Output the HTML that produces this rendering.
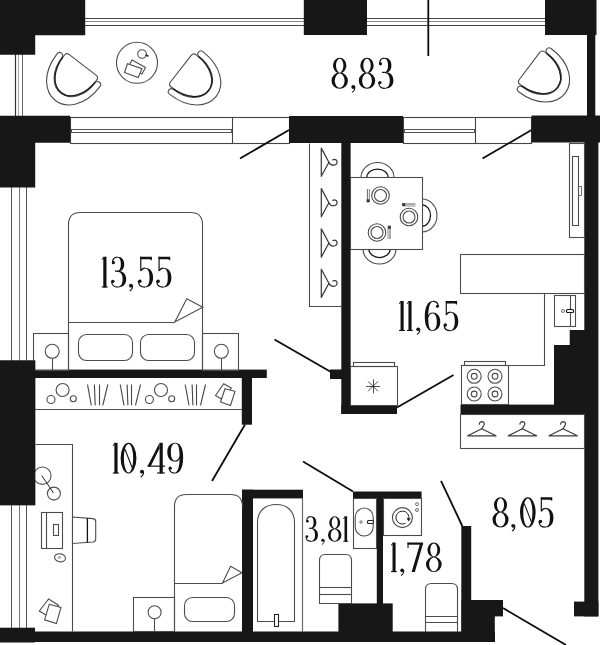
<!DOCTYPE html>
<html><head><meta charset="utf-8"><title>Floor plan</title>
<style>
html,body{margin:0;padding:0;background:#fff;font-family:"Liberation Sans",sans-serif;}
svg{display:block}
</style></head>
<body>
<svg width="600" height="645" viewBox="0 0 600 645">
<rect x="0" y="0" width="600" height="645" fill="#fff"/>
<line x1="85.00" y1="18.50" x2="545.00" y2="18.50" stroke="#444" stroke-width="1.2" stroke-linecap="butt"/>
<line x1="85.00" y1="21.50" x2="545.00" y2="21.50" stroke="#8a8a8a" stroke-width="1.0" stroke-linecap="butt"/>
<line x1="85.00" y1="25.50" x2="545.00" y2="25.50" stroke="#444" stroke-width="1.1" stroke-linecap="butt"/>
<line x1="15.50" y1="54.00" x2="15.50" y2="116.00" stroke="#333" stroke-width="1.2" stroke-linecap="butt"/>
<line x1="18.50" y1="54.00" x2="18.50" y2="116.00" stroke="#aaa" stroke-width="1.1" stroke-linecap="butt"/>
<line x1="22.50" y1="54.00" x2="22.50" y2="116.00" stroke="#666" stroke-width="1.0" stroke-linecap="butt"/>
<line x1="11.50" y1="187.00" x2="11.50" y2="361.00" stroke="#555" stroke-width="1.0" stroke-linecap="butt"/>
<line x1="11.50" y1="505.00" x2="11.50" y2="628.00" stroke="#555" stroke-width="1.0" stroke-linecap="butt"/>
<line x1="19.50" y1="187.00" x2="19.50" y2="361.00" stroke="#777" stroke-width="1.0" stroke-linecap="butt"/>
<line x1="19.50" y1="505.00" x2="19.50" y2="628.00" stroke="#777" stroke-width="1.0" stroke-linecap="butt"/>
<line x1="26.50" y1="187.00" x2="26.50" y2="361.00" stroke="#555" stroke-width="1.0" stroke-linecap="butt"/>
<line x1="26.50" y1="505.00" x2="26.50" y2="628.00" stroke="#555" stroke-width="1.0" stroke-linecap="butt"/>
<rect x="70.50" y="117.50" width="219.00" height="26.00" fill="none" stroke="#444" stroke-width="1.1"/>
<line x1="232.50" y1="117.00" x2="232.50" y2="143.40" stroke="#444" stroke-width="1.1" stroke-linecap="butt"/>
<rect x="71.50" y="129.50" width="160.00" height="3.00" fill="none" stroke="#444" stroke-width="0.9"/>
<rect x="403.50" y="117.50" width="128.00" height="26.00" fill="none" stroke="#444" stroke-width="1.1"/>
<line x1="475.50" y1="117.00" x2="475.50" y2="143.40" stroke="#444" stroke-width="1.1" stroke-linecap="butt"/>
<rect x="404.50" y="129.50" width="70.00" height="3.00" fill="none" stroke="#444" stroke-width="0.9"/>
<polygon points="0.00,0.00 85.20,0.00 85.20,35.20 35.20,35.20 35.20,54.70 0.00,54.70" fill="#171717" stroke="none" stroke-width="0" stroke-linejoin="miter"/>
<rect x="303.80" y="0.00" width="63.20" height="35.00" fill="#171717"/>
<rect x="545.00" y="0.00" width="51.50" height="35.00" fill="#171717"/>
<rect x="587.00" y="35.00" width="8.30" height="81.00" fill="#171717"/>
<polygon points="0.00,115.70 70.20,115.70 70.20,142.80 35.20,142.80 35.20,187.50 0.00,187.50" fill="#171717" stroke="none" stroke-width="0" stroke-linejoin="miter"/>
<rect x="289.00" y="116.00" width="114.00" height="27.00" fill="#171717"/>
<rect x="531.50" y="115.50" width="68.50" height="27.00" fill="#171717"/>
<rect x="584.30" y="142.00" width="14.10" height="474.40" fill="#171717"/>
<rect x="574.00" y="601.60" width="24.40" height="14.80" fill="#171717"/>
<rect x="569.70" y="330.00" width="15.30" height="76.00" fill="#171717"/>
<rect x="554.00" y="345.00" width="31.00" height="61.00" fill="#171717"/>
<rect x="460.50" y="404.60" width="124.50" height="9.90" fill="#171717"/>
<rect x="341.30" y="142.00" width="9.30" height="272.00" fill="#171717"/>
<rect x="341.30" y="405.00" width="55.70" height="9.00" fill="#171717"/>
<rect x="330.00" y="369.50" width="12.00" height="9.50" fill="#171717"/>
<rect x="0.00" y="360.50" width="35.20" height="144.70" fill="#171717"/>
<rect x="34.00" y="369.60" width="232.80" height="8.40" fill="#171717"/>
<rect x="241.80" y="377.00" width="10.20" height="47.70" fill="#171717"/>
<rect x="0.00" y="627.70" width="35.00" height="14.80" fill="#171717"/>
<rect x="34.00" y="631.50" width="461.00" height="10.50" fill="#171717"/>
<rect x="242.00" y="489.70" width="11.00" height="142.30" fill="#171717"/>
<rect x="242.00" y="489.70" width="61.00" height="8.70" fill="#171717"/>
<rect x="353.00" y="491.50" width="68.60" height="7.10" fill="#171717"/>
<rect x="376.80" y="498.00" width="6.20" height="106.00" fill="#171717"/>
<rect x="338.40" y="603.40" width="54.30" height="28.60" fill="#171717"/>
<rect x="461.30" y="526.00" width="9.90" height="106.00" fill="#171717"/>
<rect x="461.50" y="600.00" width="41.50" height="16.40" fill="#171717"/>
<rect x="461.50" y="616.00" width="33.30" height="26.00" fill="#171717"/>
<line x1="289.00" y1="130.00" x2="240.00" y2="158.50" stroke="#0c0c0c" stroke-width="1.8" stroke-linecap="butt"/>
<line x1="531.50" y1="130.00" x2="482.50" y2="158.50" stroke="#0c0c0c" stroke-width="1.8" stroke-linecap="butt"/>
<line x1="428.30" y1="0.00" x2="428.30" y2="56.00" stroke="#0c0c0c" stroke-width="1.8" stroke-linecap="butt"/>
<line x1="274.50" y1="339.50" x2="331.00" y2="372.00" stroke="#0c0c0c" stroke-width="1.8" stroke-linecap="butt"/>
<line x1="397.00" y1="407.50" x2="453.50" y2="375.00" stroke="#0c0c0c" stroke-width="1.8" stroke-linecap="butt"/>
<line x1="245.00" y1="424.50" x2="212.00" y2="481.00" stroke="#0c0c0c" stroke-width="1.8" stroke-linecap="butt"/>
<line x1="303.00" y1="461.50" x2="353.00" y2="491.50" stroke="#0c0c0c" stroke-width="1.8" stroke-linecap="butt"/>
<line x1="441.00" y1="480.80" x2="462.30" y2="526.00" stroke="#0c0c0c" stroke-width="1.8" stroke-linecap="butt"/>
<line x1="503.00" y1="608.00" x2="566.00" y2="645.00" stroke="#0c0c0c" stroke-width="1.8" stroke-linecap="butt"/>
<line x1="302.50" y1="498.00" x2="302.50" y2="632.00" stroke="#6a6a6a" stroke-width="1.2" stroke-linecap="butt"/>
<g transform="translate(72.1,78.6) rotate(37.5) scale(1.02)" fill="#fff" stroke="#4c4c4c" stroke-width="1.1">
<path d="M-26.5,-10 C-26.5,14 -13,27 0,27 C13,27 26.5,14 26.5,-10 Q26.5,-13.5 23.5,-13.5 Q20.5,-13.5 20.5,-10 C20.5,6 11.5,18 0,18 C-11.5,18 -20.5,6 -20.5,-10 Q-20.5,-13.5 -23.5,-13.5 Q-26.5,-13.5 -26.5,-10 Z"/>
<path d="M-16.5,-17 L16.5,-17 Q20,-17 20,-13.5 C20,5 11,17.5 0,17.5 C-11,17.5 -20,5 -20,-13.5 Q-20,-17 -16.5,-17 Z"/>
<path d="M20,-11 C20,5 11,17.5 0,17.5 C-11,17.5 -20,5 -20,-11" fill="none" stroke="#1a1a1a" stroke-width="1.05"/>
</g>
<g transform="translate(194.5,79.4) rotate(-52) scale(1.02)" fill="#fff" stroke="#4c4c4c" stroke-width="1.1">
<path d="M-26.5,-10 C-26.5,14 -13,27 0,27 C13,27 26.5,14 26.5,-10 Q26.5,-13.5 23.5,-13.5 Q20.5,-13.5 20.5,-10 C20.5,6 11.5,18 0,18 C-11.5,18 -20.5,6 -20.5,-10 Q-20.5,-13.5 -23.5,-13.5 Q-26.5,-13.5 -26.5,-10 Z"/>
<path d="M-16.5,-17 L16.5,-17 Q20,-17 20,-13.5 C20,5 11,17.5 0,17.5 C-11,17.5 -20,5 -20,-13.5 Q-20,-17 -16.5,-17 Z"/>
<path d="M20,-11 C20,5 11,17.5 0,17.5 C-11,17.5 -20,5 -20,-11" fill="none" stroke="#1a1a1a" stroke-width="1.05"/>
</g>
<g transform="translate(543.3,76.5) rotate(-53) scale(1.02)" fill="#fff" stroke="#4c4c4c" stroke-width="1.1">
<path d="M-26.5,-10 C-26.5,14 -13,27 0,27 C13,27 26.5,14 26.5,-10 Q26.5,-13.5 23.5,-13.5 Q20.5,-13.5 20.5,-10 C20.5,6 11.5,18 0,18 C-11.5,18 -20.5,6 -20.5,-10 Q-20.5,-13.5 -23.5,-13.5 Q-26.5,-13.5 -26.5,-10 Z"/>
<path d="M-16.5,-17 L16.5,-17 Q20,-17 20,-13.5 C20,5 11,17.5 0,17.5 C-11,17.5 -20,5 -20,-13.5 Q-20,-17 -16.5,-17 Z"/>
<path d="M20,-11 C20,5 11,17.5 0,17.5 C-11,17.5 -20,5 -20,-11" fill="none" stroke="#1a1a1a" stroke-width="1.05"/>
</g>
<circle cx="137.00" cy="62.80" r="20.50" fill="none" stroke="#4c4c4c" stroke-width="1.1"/>
<circle cx="142.00" cy="54.00" r="4.30" fill="none" stroke="#4c4c4c" stroke-width="1.1"/>
<line x1="145.50" y1="55.00" x2="148.50" y2="56.20" stroke="#222" stroke-width="1.6" stroke-linecap="butt"/>
<polygon points="132.00,60.00 145.50,67.50 142.00,74.00 128.50,66.50" fill="#fff" stroke="#4c4c4c" stroke-width="1.1" stroke-linejoin="miter"/>
<polygon points="127.50,63.70 142.00,68.70 138.20,77.50 124.50,72.50" fill="#fff" stroke="#4c4c4c" stroke-width="1.1" stroke-linejoin="miter"/>
<path d="M68.5,370.5 L68.5,224.5 Q68.5,212.5 80.5,212.5 L190.5,212.5 Q202.5,212.5 202.5,224.5 L202.5,370.5" fill="none" stroke="#4c4c4c" stroke-width="1.1" />
<line x1="68.80" y1="322.50" x2="174.80" y2="322.50" stroke="#4c4c4c" stroke-width="1.1" stroke-linecap="butt"/>
<polygon points="174.80,322.00 186.80,298.80 202.80,307.20" fill="none" stroke="#4c4c4c" stroke-width="1.1" stroke-linejoin="miter"/>
<rect x="78.50" y="334.50" width="54.00" height="26.00" rx="8" fill="none" stroke="#4c4c4c" stroke-width="1.1"/>
<rect x="140.50" y="334.50" width="54.00" height="26.00" rx="8" fill="none" stroke="#4c4c4c" stroke-width="1.1"/>
<rect x="33.50" y="333.50" width="35.00" height="37.00" fill="none" stroke="#4c4c4c" stroke-width="1.1"/>
<rect x="202.50" y="333.50" width="36.00" height="37.00" fill="none" stroke="#4c4c4c" stroke-width="1.1"/>
<circle cx="52.20" cy="351.30" r="7.00" fill="none" stroke="#4c4c4c" stroke-width="1.1"/>
<line x1="52.50" y1="358.30" x2="52.50" y2="370.00" stroke="#4c4c4c" stroke-width="1.1" stroke-linecap="butt"/>
<circle cx="221.30" cy="351.30" r="7.00" fill="none" stroke="#4c4c4c" stroke-width="1.1"/>
<line x1="221.50" y1="358.30" x2="221.50" y2="370.00" stroke="#4c4c4c" stroke-width="1.1" stroke-linecap="butt"/>
<path d="M309.5,143.5 L309.5,306.5 L341.5,306.5" fill="none" stroke="#4c4c4c" stroke-width="1.1" />
<path d="M321.3,148.1 L321.3,176.29999999999998 L328.9,162.2 Z" fill="none" stroke="#3c3c3c" stroke-width="1.25" stroke-linejoin="round"/>
<path d="M328.9,162.2 C330,164.6 332,165.39999999999998 334,165.2 C336.3,165.0 337.4,163.2 337,161.39999999999998 C336.6,159.6 334.4,158.89999999999998 332.8,159.89999999999998" fill="none" stroke="#3c3c3c" stroke-width="1.25" stroke-linecap="round"/>
<path d="M321.3,188.6 L321.3,216.79999999999998 L328.9,202.7 Z" fill="none" stroke="#3c3c3c" stroke-width="1.25" stroke-linejoin="round"/>
<path d="M328.9,202.7 C330,205.1 332,205.89999999999998 334,205.7 C336.3,205.5 337.4,203.7 337,201.89999999999998 C336.6,200.1 334.4,199.39999999999998 332.8,200.39999999999998" fill="none" stroke="#3c3c3c" stroke-width="1.25" stroke-linecap="round"/>
<path d="M321.3,228.9 L321.3,257.1 L328.9,243 Z" fill="none" stroke="#3c3c3c" stroke-width="1.25" stroke-linejoin="round"/>
<path d="M328.9,243 C330,245.4 332,246.2 334,246.0 C336.3,245.8 337.4,244.0 337,242.2 C336.6,240.4 334.4,239.7 332.8,240.7" fill="none" stroke="#3c3c3c" stroke-width="1.25" stroke-linecap="round"/>
<path d="M321.3,269.2 L321.3,297.40000000000003 L328.9,283.3 Z" fill="none" stroke="#3c3c3c" stroke-width="1.25" stroke-linejoin="round"/>
<path d="M328.9,283.3 C330,285.7 332,286.5 334,286.3 C336.3,286.1 337.4,284.3 337,282.5 C336.6,280.7 334.4,280.0 332.8,281.0" fill="none" stroke="#3c3c3c" stroke-width="1.25" stroke-linecap="round"/>
<g transform="translate(377.5,177.5) rotate(0)">
<path d="M-16.5,0 A16.5,15 0 0 1 16.5,0" fill="#fff" stroke="#4c4c4c" stroke-width="1.1"/>
<path d="M-10.7,0 A10.7,8.5 0 0 1 10.7,0" fill="#fff" stroke="#151515" stroke-width="1.25"/>
</g>
<g transform="translate(422,215.5) rotate(90)">
<path d="M-16.5,0 A16.5,15 0 0 1 16.5,0" fill="#fff" stroke="#4c4c4c" stroke-width="1.1"/>
<path d="M-10.7,0 A10.7,8.5 0 0 1 10.7,0" fill="#fff" stroke="#151515" stroke-width="1.25"/>
</g>
<g transform="translate(379.5,249) rotate(180)">
<path d="M-16.5,0 A16.5,15 0 0 1 16.5,0" fill="#fff" stroke="#4c4c4c" stroke-width="1.1"/>
<path d="M-10.7,0 A10.7,8.5 0 0 1 10.7,0" fill="#fff" stroke="#151515" stroke-width="1.25"/>
</g>
<rect x="350.50" y="177.50" width="72.00" height="72.00" fill="#fff" stroke="#4c4c4c" stroke-width="1.1"/>
<circle cx="380.50" cy="195.50" r="8.80" fill="none" stroke="#4c4c4c" stroke-width="1.1"/>
<circle cx="380.50" cy="195.50" r="6.00" fill="none" stroke="#4c4c4c" stroke-width="1.1"/>
<g transform="translate(380.5,195.5) rotate(0)">
<rect x="-13.6" y="-6.5" width="1.2" height="13" fill="#777"/><rect x="-11.6" y="-6.5" width="1.1" height="13" fill="#999"/><rect x="-13.8" y="3.8" width="2.8" height="3" fill="#333"/>
</g>
<circle cx="409.00" cy="217.00" r="8.80" fill="none" stroke="#4c4c4c" stroke-width="1.1"/>
<circle cx="409.00" cy="217.00" r="6.00" fill="none" stroke="#4c4c4c" stroke-width="1.1"/>
<g transform="translate(409,217) rotate(90)">
<rect x="-13.6" y="-6.5" width="1.2" height="13" fill="#777"/><rect x="-11.6" y="-6.5" width="1.1" height="13" fill="#999"/><rect x="-13.8" y="3.8" width="2.8" height="3" fill="#333"/>
</g>
<circle cx="377.00" cy="232.50" r="8.80" fill="none" stroke="#4c4c4c" stroke-width="1.1"/>
<circle cx="377.00" cy="232.50" r="6.00" fill="none" stroke="#4c4c4c" stroke-width="1.1"/>
<g transform="translate(377,232.5) rotate(180)">
<rect x="-13.6" y="-6.5" width="1.2" height="13" fill="#777"/><rect x="-11.6" y="-6.5" width="1.1" height="13" fill="#999"/><rect x="-13.8" y="3.8" width="2.8" height="3" fill="#333"/>
</g>
<rect x="569.50" y="143.50" width="15.00" height="94.00" fill="none" stroke="#4c4c4c" stroke-width="1.1"/>
<rect x="572.50" y="156.50" width="6.00" height="69.00" fill="none" stroke="#4c4c4c" stroke-width="1.1"/>
<rect x="578.50" y="186.50" width="3.00" height="9.00" fill="none" stroke="#4c4c4c" stroke-width="0.8"/>
<rect x="460.50" y="254.50" width="124.00" height="39.00" fill="none" stroke="#4c4c4c" stroke-width="1.1"/>
<path d="M544.5,293.5 L544.5,365.5 L508.5,365.5" fill="none" stroke="#4c4c4c" stroke-width="1.1" />
<rect x="554.50" y="295.50" width="21.00" height="31.00" fill="none" stroke="#4c4c4c" stroke-width="1.1"/>
<line x1="570.50" y1="295.70" x2="570.50" y2="326.80" stroke="#4c4c4c" stroke-width="1.1" stroke-linecap="butt"/>
<circle cx="563.00" cy="311.00" r="1.50" fill="none" stroke="#4c4c4c" stroke-width="0.8"/>
<rect x="566.50" y="309.50" width="7.00" height="3.00" rx="1" fill="#fff" stroke="#111" stroke-width="1.1"/>
<rect x="464.50" y="361.50" width="41.00" height="4.00" fill="none" stroke="#4c4c4c" stroke-width="1.1"/>
<rect x="461.50" y="365.50" width="47.00" height="39.00" fill="none" stroke="#4c4c4c" stroke-width="1.1"/>
<circle cx="474.20" cy="376.30" r="7.00" fill="none" stroke="#4c4c4c" stroke-width="1.1"/>
<circle cx="474.20" cy="376.30" r="2.90" fill="none" stroke="#4c4c4c" stroke-width="1.1"/>
<circle cx="474.20" cy="394.00" r="7.00" fill="none" stroke="#4c4c4c" stroke-width="1.1"/>
<circle cx="474.20" cy="394.00" r="2.90" fill="none" stroke="#4c4c4c" stroke-width="1.1"/>
<circle cx="495.00" cy="376.30" r="7.00" fill="none" stroke="#4c4c4c" stroke-width="1.1"/>
<circle cx="495.00" cy="376.30" r="2.90" fill="none" stroke="#4c4c4c" stroke-width="1.1"/>
<circle cx="495.00" cy="394.00" r="7.00" fill="none" stroke="#4c4c4c" stroke-width="1.1"/>
<circle cx="495.00" cy="394.00" r="2.90" fill="none" stroke="#4c4c4c" stroke-width="1.1"/>
<rect x="353.50" y="362.50" width="41.00" height="4.00" fill="none" stroke="#4c4c4c" stroke-width="1.1"/>
<rect x="350.50" y="366.50" width="47.00" height="39.00" fill="none" stroke="#4c4c4c" stroke-width="1.1"/>
<line x1="373.50" y1="379.30" x2="373.50" y2="393.30" stroke="#222" stroke-width="0.8" stroke-linecap="butt"/>
<line x1="377.95" y1="381.35" x2="368.05" y2="391.25" stroke="#222" stroke-width="0.8" stroke-linecap="butt"/>
<line x1="380.00" y1="386.50" x2="366.00" y2="386.50" stroke="#222" stroke-width="0.8" stroke-linecap="butt"/>
<line x1="377.95" y1="391.25" x2="368.05" y2="381.35" stroke="#222" stroke-width="0.8" stroke-linecap="butt"/>
<rect x="460.50" y="414.50" width="124.00" height="34.00" fill="none" stroke="#4c4c4c" stroke-width="1.1"/>
<path d="M467.7,435.8 L496.0,435.8 L481.7,428.7 Z" fill="none" stroke="#3c3c3c" stroke-width="1.25" stroke-linejoin="round"/>
<path d="M481.7,428.7 L483.09999999999997,426.4 C485.0,424.6 484.5,421.8 482.0,421.7 C480.3,421.7 479.3,422.8 479.4,424.1" fill="none" stroke="#3c3c3c" stroke-width="1.25" stroke-linecap="round"/>
<path d="M508.29999999999995,435.8 L536.5999999999999,435.8 L522.3,428.7 Z" fill="none" stroke="#3c3c3c" stroke-width="1.25" stroke-linejoin="round"/>
<path d="M522.3,428.7 L523.6999999999999,426.4 C525.5999999999999,424.6 525.0999999999999,421.8 522.5999999999999,421.7 C520.9,421.7 519.9,422.8 520.0,424.1" fill="none" stroke="#3c3c3c" stroke-width="1.25" stroke-linecap="round"/>
<path d="M549.0,435.8 L577.3,435.8 L563,428.7 Z" fill="none" stroke="#3c3c3c" stroke-width="1.25" stroke-linejoin="round"/>
<path d="M563,428.7 L564.4,426.4 C566.3,424.6 565.8,421.8 563.3,421.7 C561.6,421.7 560.6,422.8 560.7,424.1" fill="none" stroke="#3c3c3c" stroke-width="1.25" stroke-linecap="round"/>
<line x1="35.00" y1="409.50" x2="242.00" y2="409.50" stroke="#4c4c4c" stroke-width="1.1" stroke-linecap="butt"/>
<circle cx="62.60" cy="390.00" r="6.50" fill="none" stroke="#4c4c4c" stroke-width="1.1"/>
<circle cx="51.00" cy="399.50" r="4.00" fill="none" stroke="#4c4c4c" stroke-width="1.1"/>
<circle cx="73.30" cy="398.80" r="3.00" fill="none" stroke="#4c4c4c" stroke-width="1.1"/>
<circle cx="161.00" cy="390.00" r="6.50" fill="none" stroke="#4c4c4c" stroke-width="1.1"/>
<circle cx="149.40" cy="399.50" r="4.00" fill="none" stroke="#4c4c4c" stroke-width="1.1"/>
<circle cx="171.70" cy="398.80" r="3.00" fill="none" stroke="#4c4c4c" stroke-width="1.1"/>
<line x1="87.50" y1="384.50" x2="91.30" y2="405.30" stroke="#444" stroke-width="1.1" stroke-linecap="butt"/>
<line x1="94.40" y1="384.50" x2="95.20" y2="405.30" stroke="#444" stroke-width="1.1" stroke-linecap="butt"/>
<line x1="99.50" y1="384.50" x2="99.50" y2="405.30" stroke="#444" stroke-width="1.1" stroke-linecap="butt"/>
<line x1="107.80" y1="384.50" x2="102.80" y2="405.30" stroke="#444" stroke-width="1.1" stroke-linecap="butt"/>
<line x1="120.20" y1="384.50" x2="124.00" y2="405.30" stroke="#444" stroke-width="1.1" stroke-linecap="butt"/>
<line x1="127.10" y1="384.50" x2="127.90" y2="405.30" stroke="#444" stroke-width="1.1" stroke-linecap="butt"/>
<line x1="131.50" y1="384.50" x2="131.50" y2="405.30" stroke="#444" stroke-width="1.1" stroke-linecap="butt"/>
<line x1="140.50" y1="384.50" x2="135.50" y2="405.30" stroke="#444" stroke-width="1.1" stroke-linecap="butt"/>
<line x1="185.20" y1="384.50" x2="189.00" y2="405.30" stroke="#444" stroke-width="1.1" stroke-linecap="butt"/>
<line x1="192.10" y1="384.50" x2="192.90" y2="405.30" stroke="#444" stroke-width="1.1" stroke-linecap="butt"/>
<line x1="196.50" y1="384.50" x2="196.50" y2="405.30" stroke="#444" stroke-width="1.1" stroke-linecap="butt"/>
<line x1="205.50" y1="384.50" x2="200.50" y2="405.30" stroke="#444" stroke-width="1.1" stroke-linecap="butt"/>
<polygon points="223.70,383.70 231.30,388.00 224.00,400.50 215.50,395.50" fill="#fff" stroke="#4c4c4c" stroke-width="1.1" stroke-linejoin="miter"/>
<polygon points="225.00,388.70 235.00,391.30 230.50,405.50 220.50,402.00" fill="#fff" stroke="#4c4c4c" stroke-width="1.1" stroke-linejoin="miter"/>
<path d="M35.5,444.5 L72.5,444.5 L72.5,631.5" fill="none" stroke="#4c4c4c" stroke-width="1.1" />
<circle cx="42.40" cy="475.70" r="8.70" fill="none" stroke="#4c4c4c" stroke-width="1.1"/>
<circle cx="53.90" cy="493.60" r="6.50" fill="none" stroke="#4c4c4c" stroke-width="1.1"/>
<line x1="41.80" y1="475.70" x2="53.50" y2="493.00" stroke="#222" stroke-width="1.0" stroke-linecap="butt"/>
<rect x="0.00" y="360.50" width="35.20" height="144.70" fill="#171717"/>
<rect x="41.50" y="512.50" width="21.00" height="36.00" fill="none" stroke="#4c4c4c" stroke-width="1.1"/>
<line x1="46.50" y1="512.20" x2="46.50" y2="548.00" stroke="#4c4c4c" stroke-width="1.1" stroke-linecap="butt"/>
<rect x="53.50" y="524.50" width="5.00" height="11.00" fill="none" stroke="#4c4c4c" stroke-width="1.1"/>
<ellipse cx="60" cy="557.8" rx="5.5" ry="4" transform="rotate(10 60 557.8)" fill="none" stroke="#4c4c4c" stroke-width="1.1"/>
<ellipse cx="59.5" cy="557.5" rx="1.4" ry="0.8" fill="none" stroke="#4c4c4c" stroke-width="0.6"/>
<path d="M72.5,517 L93,518.6 Q95.7,519 95.7,521.5 L95.7,539 Q95.7,541.6 93,542 L72.5,543.5 Z" fill="#fff" stroke="#4c4c4c" stroke-width="1.1" />
<line x1="87.40" y1="518.20" x2="87.40" y2="542.40" stroke="#111" stroke-width="1.3" stroke-linecap="butt"/>
<polygon points="48.60,599.00 58.50,605.30 51.00,618.00 39.30,611.00" fill="#fff" stroke="#4c4c4c" stroke-width="1.1" stroke-linejoin="miter"/>
<polygon points="49.20,604.30 61.00,607.40 56.40,623.60 44.60,619.80" fill="#fff" stroke="#4c4c4c" stroke-width="1.1" stroke-linejoin="miter"/>
<path d="M174.5,631.5 L174.5,506.5 Q174.5,494.5 186.5,494.5 L230.5,494.5 Q242.5,494.5 242.5,506.5" fill="none" stroke="#4c4c4c" stroke-width="1.1" />
<line x1="174.80" y1="583.50" x2="222.50" y2="583.50" stroke="#4c4c4c" stroke-width="1.1" stroke-linecap="butt"/>
<polygon points="222.50,583.00 230.60,566.20 242.00,572.70" fill="none" stroke="#4c4c4c" stroke-width="1.1" stroke-linejoin="miter"/>
<rect x="184.50" y="597.50" width="50.00" height="24.00" rx="8" fill="none" stroke="#4c4c4c" stroke-width="1.1"/>
<rect x="133.50" y="597.50" width="41.00" height="34.00" fill="none" stroke="#4c4c4c" stroke-width="1.1"/>
<circle cx="154.60" cy="612.20" r="6.50" fill="none" stroke="#4c4c4c" stroke-width="1.1"/>
<line x1="154.50" y1="618.70" x2="154.50" y2="631.50" stroke="#4c4c4c" stroke-width="1.1" stroke-linecap="butt"/>
<path d="M257.5,621.5 L257.5,522.5 C257.5,510.5 265.5,504.5 276.5,504.5 C286.5,504.5 294.5,510.5 294.5,522.5 L294.5,621.5 Z" fill="none" stroke="#4c4c4c" stroke-width="1.1" />
<rect x="274.50" y="614.50" width="4.00" height="12.00" fill="#fff" stroke="#222" stroke-width="1.1"/>
<path d="M319.5,603.5 L319.5,560.5 Q319.5,554.5 325.5,554.5 L345.5,554.5 Q351.5,554.5 351.5,560.5 L351.5,603.5 Z" fill="none" stroke="#4c4c4c" stroke-width="1.1" />
<line x1="319.70" y1="587.50" x2="351.00" y2="587.50" stroke="#4c4c4c" stroke-width="1.1" stroke-linecap="butt"/>
<line x1="319.70" y1="594.50" x2="351.00" y2="594.50" stroke="#4c4c4c" stroke-width="1.1" stroke-linecap="butt"/>
<rect x="353.50" y="498.50" width="23.00" height="50.00" fill="none" stroke="#4c4c4c" stroke-width="1.1"/>
<rect x="355.2" y="508" width="18" height="28" rx="9" ry="9.3" fill="none" stroke="#4c4c4c" stroke-width="1.1"/>
<circle cx="361.00" cy="522.00" r="1.20" fill="none" stroke="#4c4c4c" stroke-width="0.8"/>
<rect x="367.50" y="520.50" width="6.00" height="3.00" rx="1" fill="#fff" stroke="#222" stroke-width="1.1"/>
<rect x="383.50" y="498.50" width="38.00" height="37.00" fill="none" stroke="#4c4c4c" stroke-width="1.1"/>
<circle cx="402.40" cy="517.60" r="10.00" fill="none" stroke="#4c4c4c" stroke-width="1.1"/>
<path d="M408.6,519.6 A6.5,6.5 0 1 0 405.5,523.3" fill="none" stroke="#222" stroke-width="1.0" />
<polygon points="407.00,518.20 410.40,518.60 408.60,521.20" fill="#222" stroke="#222" stroke-width="0.5" stroke-linejoin="miter"/>
<circle cx="417.00" cy="504.20" r="1.50" fill="none" stroke="#4c4c4c" stroke-width="0.8"/>
<circle cx="417.00" cy="510.00" r="1.50" fill="none" stroke="#4c4c4c" stroke-width="0.8"/>
<path d="M425.5,632.5 L425.5,589.5 Q425.5,583.5 431.5,583.5 L451.5,583.5 Q457.5,583.5 457.5,589.5 L457.5,632.5" fill="none" stroke="#4c4c4c" stroke-width="1.1" />
<line x1="425.00" y1="616.50" x2="457.70" y2="616.50" stroke="#4c4c4c" stroke-width="1.1" stroke-linecap="butt"/>
<line x1="425.00" y1="622.50" x2="457.70" y2="622.50" stroke="#4c4c4c" stroke-width="1.1" stroke-linecap="butt"/>
<g transform="translate(331.5,57.8) scale(1.0000)"><path fill-rule="evenodd" fill="#111" d="M1.4999999999999991,7.7 A6.7,7.7 0 1,0 14.899999999999999,7.7 A6.7,7.7 0 1,0 1.4999999999999991,7.7 Z M4.499999999999999,7.7 A3.7,6.7 0 1,0 11.899999999999999,7.7 A3.7,6.7 0 1,0 4.499999999999999,7.7 Z M0.0,22.9 A8.2,8.1 0 1,0 16.4,22.9 A8.2,8.1 0 1,0 0.0,22.9 Z M3.299999999999999,22.9 A4.9,7.1 0 1,0 13.1,22.9 A4.9,7.1 0 1,0 3.299999999999999,22.9 Z"/></g>
<g transform="translate(351,57.8) scale(1.0000)"><circle cx="2.2" cy="29.2" r="1.9" fill="#111"/><path fill="none" stroke="#111" stroke-width="1.1" d="M3.8,28.6 C4.3,31.6 3,33.4 1,34.6"/></g>
<g transform="translate(358.8,57.8) scale(1.0000)"><path fill-rule="evenodd" fill="#111" d="M1.4999999999999991,7.7 A6.7,7.7 0 1,0 14.899999999999999,7.7 A6.7,7.7 0 1,0 1.4999999999999991,7.7 Z M4.499999999999999,7.7 A3.7,6.7 0 1,0 11.899999999999999,7.7 A3.7,6.7 0 1,0 4.499999999999999,7.7 Z M0.0,22.9 A8.2,8.1 0 1,0 16.4,22.9 A8.2,8.1 0 1,0 0.0,22.9 Z M3.299999999999999,22.9 A4.9,7.1 0 1,0 13.1,22.9 A4.9,7.1 0 1,0 3.299999999999999,22.9 Z"/></g>
<g transform="translate(377.8,57.8) scale(1.0000)"><path fill="#111" d="M6.5,0 C11.5,0 13.6,3.2 13.6,7.6 C13.6,12 11.5,15 6.5,15 L6.5,14.2 C9.2,14.1 10.2,11.5 10.2,7.6 C10.2,3.7 9.2,0.9 6.5,0.9 Z"/><path fill="#111" d="M6.5,14.2 C12.5,14.2 15.6,17.5 15.6,22.8 C15.6,27.8 12.5,31 7,31 L7,30.2 C10.2,30.1 12,27.5 12,22.8 C12,17.8 10.2,15.1 6.5,15.1 Z"/><path fill="none" stroke="#111" stroke-width="1.25" d="M6.6,0.4 C3.5,0.4 1.8,2.6 1.8,5.6 M7.1,30.6 C3.6,30.6 1,28.5 1,25 M4.3,14.6 L7,14.6"/><circle cx="2.7" cy="6.0" r="1.6" fill="#111"/><circle cx="2.1" cy="24.8" r="1.7" fill="#111"/></g>
<g transform="translate(101.7,256.7) scale(0.9935)"><rect x="1.6" y="0" width="3.2" height="31" fill="#111"/><rect x="0" y="29.9" width="6.1" height="1.1" fill="#111"/><path d="M0,2.6 L1.8,0 L1.8,2 L0,3.4 Z" fill="#111"/></g>
<g transform="translate(110.7,256.7) scale(0.9935)"><path fill="#111" d="M6.5,0 C11.5,0 13.6,3.2 13.6,7.6 C13.6,12 11.5,15 6.5,15 L6.5,14.2 C9.2,14.1 10.2,11.5 10.2,7.6 C10.2,3.7 9.2,0.9 6.5,0.9 Z"/><path fill="#111" d="M6.5,14.2 C12.5,14.2 15.6,17.5 15.6,22.8 C15.6,27.8 12.5,31 7,31 L7,30.2 C10.2,30.1 12,27.5 12,22.8 C12,17.8 10.2,15.1 6.5,15.1 Z"/><path fill="none" stroke="#111" stroke-width="1.25" d="M6.6,0.4 C3.5,0.4 1.8,2.6 1.8,5.6 M7.1,30.6 C3.6,30.6 1,28.5 1,25 M4.3,14.6 L7,14.6"/><circle cx="2.7" cy="6.0" r="1.6" fill="#111"/><circle cx="2.1" cy="24.8" r="1.7" fill="#111"/></g>
<g transform="translate(128.7,256.7) scale(0.9935)"><circle cx="2.2" cy="29.2" r="1.9" fill="#111"/><path fill="none" stroke="#111" stroke-width="1.1" d="M3.8,28.6 C4.3,31.6 3,33.4 1,34.6"/></g>
<g transform="translate(137.4,256.7) scale(0.9935)"><path fill="#111" d="M3,0 L14.6,0 L14.6,3.6 L13.8,3.6 Q13.5,2.6 12,2.6 L3,2.6 Z"/><line x1="3.4" y1="0" x2="3.4" y2="14.2" stroke="#111" stroke-width="1.2"/><path fill="#111" d="M7.5,11 C12.5,11 15.8,14.5 15.8,21 C15.8,27.5 12.5,31 7.5,31 L7.5,30.2 C10.7,30.1 12.2,27 12.2,21 C12.2,15 10.7,11.9 7.5,11.9 Z"/><path fill="none" stroke="#111" stroke-width="1.25" d="M3.3,14.4 C4.2,12.6 5.6,11.4 7.6,11.4 M7.6,30.6 C4,30.6 1.2,28.6 1.2,25"/><circle cx="2.4" cy="24.7" r="1.8" fill="#111"/></g>
<g transform="translate(155.7,256.7) scale(0.9935)"><path fill="#111" d="M3,0 L14.6,0 L14.6,3.6 L13.8,3.6 Q13.5,2.6 12,2.6 L3,2.6 Z"/><line x1="3.4" y1="0" x2="3.4" y2="14.2" stroke="#111" stroke-width="1.2"/><path fill="#111" d="M7.5,11 C12.5,11 15.8,14.5 15.8,21 C15.8,27.5 12.5,31 7.5,31 L7.5,30.2 C10.7,30.1 12.2,27 12.2,21 C12.2,15 10.7,11.9 7.5,11.9 Z"/><path fill="none" stroke="#111" stroke-width="1.25" d="M3.3,14.4 C4.2,12.6 5.6,11.4 7.6,11.4 M7.6,30.6 C4,30.6 1.2,28.6 1.2,25"/><circle cx="2.4" cy="24.7" r="1.8" fill="#111"/></g>
<g transform="translate(399,301) scale(0.9677)"><rect x="1.6" y="0" width="3.2" height="31" fill="#111"/><rect x="0" y="29.9" width="6.1" height="1.1" fill="#111"/><path d="M0,2.6 L1.8,0 L1.8,2 L0,3.4 Z" fill="#111"/></g>
<g transform="translate(406.9,301) scale(0.9677)"><rect x="1.6" y="0" width="3.2" height="31" fill="#111"/><rect x="0" y="29.9" width="6.1" height="1.1" fill="#111"/><path d="M0,2.6 L1.8,0 L1.8,2 L0,3.4 Z" fill="#111"/></g>
<g transform="translate(416,301) scale(0.9677)"><circle cx="2.2" cy="29.2" r="1.9" fill="#111"/><path fill="none" stroke="#111" stroke-width="1.1" d="M3.8,28.6 C4.3,31.6 3,33.4 1,34.6"/></g>
<g transform="translate(424.4,301) scale(0.9677)"><path fill="#111" d="M9,0 C3.5,0 0.4,6 0.4,16.5 C0.4,26 3.5,31 8.4,31 L8.4,30.2 C5.2,30.1 4,26 4,16.5 C4,7 5.8,0.9 9,0.9 Z"/><path fill="#111" d="M8.4,12 C13,12 16.4,15.5 16.4,21.5 C16.4,27.5 13,31 8.4,31 L8.4,30.2 C11.2,30.1 12.8,27 12.8,21.5 C12.8,16 11.2,12.9 8.4,12.9 Z"/><path fill="none" stroke="#111" stroke-width="1.25" d="M3.6,17 C4.5,14 6,12.4 8.4,12.4 M9,0.4 C12,0.4 14,2 14.3,5"/><circle cx="13.5" cy="5.4" r="1.6" fill="#111"/></g>
<g transform="translate(443,301) scale(0.9677)"><path fill="#111" d="M3,0 L14.6,0 L14.6,3.6 L13.8,3.6 Q13.5,2.6 12,2.6 L3,2.6 Z"/><line x1="3.4" y1="0" x2="3.4" y2="14.2" stroke="#111" stroke-width="1.2"/><path fill="#111" d="M7.5,11 C12.5,11 15.8,14.5 15.8,21 C15.8,27.5 12.5,31 7.5,31 L7.5,30.2 C10.7,30.1 12.2,27 12.2,21 C12.2,15 10.7,11.9 7.5,11.9 Z"/><path fill="none" stroke="#111" stroke-width="1.25" d="M3.3,14.4 C4.2,12.6 5.6,11.4 7.6,11.4 M7.6,30.6 C4,30.6 1.2,28.6 1.2,25"/><circle cx="2.4" cy="24.7" r="1.8" fill="#111"/></g>
<g transform="translate(112.8,442.8) scale(0.9903)"><rect x="1.6" y="0" width="3.2" height="31" fill="#111"/><rect x="0" y="29.9" width="6.1" height="1.1" fill="#111"/><path d="M0,2.6 L1.8,0 L1.8,2 L0,3.4 Z" fill="#111"/></g>
<g transform="translate(120.6,442.8) scale(0.9903)"><path fill-rule="evenodd" fill="#111" d="M0,15.5 A8,15.5 0 1,0 16,15.5 A8,15.5 0 1,0 0,15.5 Z M3.3,15.5 A4.7,14.4 0 1,0 12.7,15.5 A4.7,14.4 0 1,0 3.3,15.5 Z"/><line x1="4.4" y1="6.5" x2="11.6" y2="25" stroke="#111" stroke-width="1.1"/></g>
<g transform="translate(139.7,442.8) scale(0.9903)"><circle cx="2.2" cy="29.2" r="1.9" fill="#111"/><path fill="none" stroke="#111" stroke-width="1.1" d="M3.8,28.6 C4.3,31.6 3,33.4 1,34.6"/></g>
<g transform="translate(147.5,442.8) scale(0.9903)"><rect x="12.2" y="0" width="3.2" height="31" fill="#111"/><path fill="#111" d="M12.2,0 L12.2,5.6 L3.3,23.6 L0,23.6 Z"/><rect x="0" y="23" width="17.7" height="1.2" fill="#111"/><rect x="9.6" y="29.9" width="8" height="1.1" fill="#111"/></g>
<g transform="translate(167.3,442.8) scale(0.9903)"><g transform="rotate(180 8.2 15.5)"><path fill="#111" d="M9,0 C3.5,0 0.4,6 0.4,16.5 C0.4,26 3.5,31 8.4,31 L8.4,30.2 C5.2,30.1 4,26 4,16.5 C4,7 5.8,0.9 9,0.9 Z"/><path fill="#111" d="M8.4,12 C13,12 16.4,15.5 16.4,21.5 C16.4,27.5 13,31 8.4,31 L8.4,30.2 C11.2,30.1 12.8,27 12.8,21.5 C12.8,16 11.2,12.9 8.4,12.9 Z"/><path fill="none" stroke="#111" stroke-width="1.25" d="M3.6,17 C4.5,14 6,12.4 8.4,12.4 M9,0.4 C12,0.4 14,2 14.3,5"/><circle cx="13.5" cy="5.4" r="1.6" fill="#111"/></g></g>
<g transform="translate(305.2,516.3) scale(0.8194)"><path fill="#111" d="M6.5,0 C11.5,0 13.6,3.2 13.6,7.6 C13.6,12 11.5,15 6.5,15 L6.5,14.2 C9.2,14.1 10.2,11.5 10.2,7.6 C10.2,3.7 9.2,0.9 6.5,0.9 Z"/><path fill="#111" d="M6.5,14.2 C12.5,14.2 15.6,17.5 15.6,22.8 C15.6,27.8 12.5,31 7,31 L7,30.2 C10.2,30.1 12,27.5 12,22.8 C12,17.8 10.2,15.1 6.5,15.1 Z"/><path fill="none" stroke="#111" stroke-width="1.25" d="M6.6,0.4 C3.5,0.4 1.8,2.6 1.8,5.6 M7.1,30.6 C3.6,30.6 1,28.5 1,25 M4.3,14.6 L7,14.6"/><circle cx="2.7" cy="6.0" r="1.6" fill="#111"/><circle cx="2.1" cy="24.8" r="1.7" fill="#111"/></g>
<g transform="translate(321,516.3) scale(0.8194)"><circle cx="2.2" cy="29.2" r="1.9" fill="#111"/><path fill="none" stroke="#111" stroke-width="1.1" d="M3.8,28.6 C4.3,31.6 3,33.4 1,34.6"/></g>
<g transform="translate(328,516.3) scale(0.8194)"><path fill-rule="evenodd" fill="#111" d="M1.4999999999999991,7.7 A6.7,7.7 0 1,0 14.899999999999999,7.7 A6.7,7.7 0 1,0 1.4999999999999991,7.7 Z M4.499999999999999,7.7 A3.7,6.7 0 1,0 11.899999999999999,7.7 A3.7,6.7 0 1,0 4.499999999999999,7.7 Z M0.0,22.9 A8.2,8.1 0 1,0 16.4,22.9 A8.2,8.1 0 1,0 0.0,22.9 Z M3.299999999999999,22.9 A4.9,7.1 0 1,0 13.1,22.9 A4.9,7.1 0 1,0 3.299999999999999,22.9 Z"/></g>
<g transform="translate(343.2,516.3) scale(0.8194)"><rect x="1.6" y="0" width="3.2" height="31" fill="#111"/><rect x="0" y="29.9" width="6.1" height="1.1" fill="#111"/><path d="M0,2.6 L1.8,0 L1.8,2 L0,3.4 Z" fill="#111"/></g>
<g transform="translate(391,542.5) scale(0.9548)"><rect x="1.6" y="0" width="3.2" height="31" fill="#111"/><rect x="0" y="29.9" width="6.1" height="1.1" fill="#111"/><path d="M0,2.6 L1.8,0 L1.8,2 L0,3.4 Z" fill="#111"/></g>
<g transform="translate(400,542.5) scale(0.9548)"><circle cx="2.2" cy="29.2" r="1.9" fill="#111"/><path fill="none" stroke="#111" stroke-width="1.1" d="M3.8,28.6 C4.3,31.6 3,33.4 1,34.6"/></g>
<g transform="translate(407.5,542.5) scale(0.9548)"><rect x="0" y="0" width="16.3" height="2.3" fill="#111"/><rect x="0" y="0" width="1.1" height="5.8" fill="#111"/><path fill="#111" d="M13.2,1 L16.3,1 L7.7,31 L4.3,31 Z"/></g>
<g transform="translate(426,542.5) scale(0.9548)"><path fill-rule="evenodd" fill="#111" d="M1.4999999999999991,7.7 A6.7,7.7 0 1,0 14.899999999999999,7.7 A6.7,7.7 0 1,0 1.4999999999999991,7.7 Z M4.499999999999999,7.7 A3.7,6.7 0 1,0 11.899999999999999,7.7 A3.7,6.7 0 1,0 4.499999999999999,7.7 Z M0.0,22.9 A8.2,8.1 0 1,0 16.4,22.9 A8.2,8.1 0 1,0 0.0,22.9 Z M3.299999999999999,22.9 A4.9,7.1 0 1,0 13.1,22.9 A4.9,7.1 0 1,0 3.299999999999999,22.9 Z"/></g>
<g transform="translate(492.5,497.3) scale(0.9774)"><path fill-rule="evenodd" fill="#111" d="M1.4999999999999991,7.7 A6.7,7.7 0 1,0 14.899999999999999,7.7 A6.7,7.7 0 1,0 1.4999999999999991,7.7 Z M4.499999999999999,7.7 A3.7,6.7 0 1,0 11.899999999999999,7.7 A3.7,6.7 0 1,0 4.499999999999999,7.7 Z M0.0,22.9 A8.2,8.1 0 1,0 16.4,22.9 A8.2,8.1 0 1,0 0.0,22.9 Z M3.299999999999999,22.9 A4.9,7.1 0 1,0 13.1,22.9 A4.9,7.1 0 1,0 3.299999999999999,22.9 Z"/></g>
<g transform="translate(511,497.3) scale(0.9774)"><circle cx="2.2" cy="29.2" r="1.9" fill="#111"/><path fill="none" stroke="#111" stroke-width="1.1" d="M3.8,28.6 C4.3,31.6 3,33.4 1,34.6"/></g>
<g transform="translate(520,497.3) scale(0.9774)"><path fill-rule="evenodd" fill="#111" d="M0,15.5 A8,15.5 0 1,0 16,15.5 A8,15.5 0 1,0 0,15.5 Z M3.3,15.5 A4.7,14.4 0 1,0 12.7,15.5 A4.7,14.4 0 1,0 3.3,15.5 Z"/><line x1="4.4" y1="6.5" x2="11.6" y2="25" stroke="#111" stroke-width="1.1"/></g>
<g transform="translate(538,497.3) scale(0.9774)"><path fill="#111" d="M3,0 L14.6,0 L14.6,3.6 L13.8,3.6 Q13.5,2.6 12,2.6 L3,2.6 Z"/><line x1="3.4" y1="0" x2="3.4" y2="14.2" stroke="#111" stroke-width="1.2"/><path fill="#111" d="M7.5,11 C12.5,11 15.8,14.5 15.8,21 C15.8,27.5 12.5,31 7.5,31 L7.5,30.2 C10.7,30.1 12.2,27 12.2,21 C12.2,15 10.7,11.9 7.5,11.9 Z"/><path fill="none" stroke="#111" stroke-width="1.25" d="M3.3,14.4 C4.2,12.6 5.6,11.4 7.6,11.4 M7.6,30.6 C4,30.6 1.2,28.6 1.2,25"/><circle cx="2.4" cy="24.7" r="1.8" fill="#111"/></g>
</svg>
</body></html>
